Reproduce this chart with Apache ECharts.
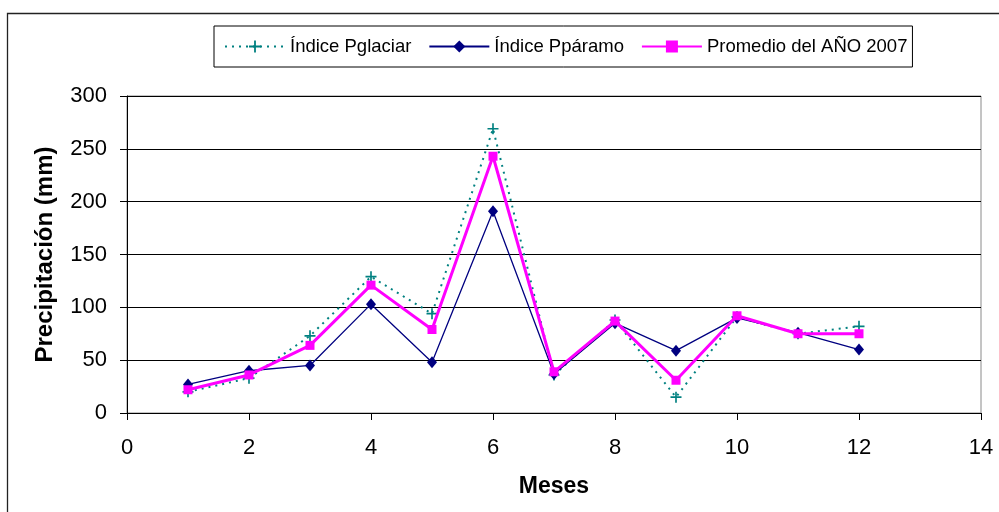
<!DOCTYPE html>
<html>
<head>
<meta charset="utf-8">
<script src="https://cdn.jsdelivr.net/npm/echarts@6/dist/echarts.min.js"></script>
<style>
  html, body { margin: 0; padding: 0; background: #fff; }
  #chart { width: 999px; height: 512px; }
</style>
</head>
<body>
<div id="chart"></div>
<script>
// Monthly precipitation, 2007
const meses = [1, 2, 3, 4, 5, 6, 7, 8, 9, 10, 11, 12];
const pglaciar = [20, 33, 73, 129, 94, 269, 36, 88, 15, 91, 75, 82];
const ppáramo = [27, 40, 45, 103, 48, 191, 37, 85, 59, 90, 76, 60];
const promedio = [22, 36, 64, 121, 79, 243, 39, 87, 31, 92, 75, 75];

const xTicks = { min: 0, max: 14, interval: 2 };
const yTicks = { min: 0, max: 300, interval: 50 };

const FONT = '"Liberation Sans", Arial, sans-serif';
const pairs = (vals) => meses.map((m, i) => [m, vals[i]]);

// thin "+" marker
const plusPath = 'path://M4.25,0H5.75V4.25H10V5.75H5.75V10H4.25V5.75H0V4.25H4.25Z';

const chart = echarts.init(document.getElementById('chart'), null, { renderer: 'canvas' });

chart.setOption({
  backgroundColor: '#ffffff',
  animation: false,
  textStyle: { fontFamily: FONT },
  graphic: [{
    type: 'rect',
    shape: { x: 7.5, y: 13.5, width: 1100, height: 600 },
    style: { fill: 'none', stroke: '#222', lineWidth: 1.3 },
    silent: true,
    z: -10
  }],
  legend: {
    left: 214,
    top: 26,
    padding: [11, 5, 11, 10],
    borderColor: '#000',
    borderWidth: 1,
    itemWidth: 60,
    itemHeight: 15,
    itemGap: 17,
    textStyle: { fontFamily: FONT, fontSize: 18.5, color: '#000' },
    data: ['Índice Pglaciar', 'Índice Ppáramo', 'Promedio del AÑO 2007']
  },
  grid: {
    left: 127,
    right: 18,
    top: 96,
    bottom: 99,
    show: true,
    borderColor: '#8a8a8a',
    borderWidth: 1,
    backgroundColor: '#fff'
  },
  xAxis: {
    type: 'value',
    min: xTicks.min,
    max: xTicks.max,
    interval: xTicks.interval,
    name: 'Meses',
    nameLocation: 'middle',
    nameGap: 62,
    nameTextStyle: { fontFamily: FONT, fontSize: 23, fontWeight: 'bold', color: '#000' },
    axisLine: { show: true, lineStyle: { color: '#000', width: 1 } },
    axisTick: { show: true, inside: false, length: 7, lineStyle: { color: '#000' } },
    axisLabel: { fontFamily: FONT, fontSize: 22, color: '#000', margin: 24 },
    splitLine: { show: false }
  },
  yAxis: {
    type: 'value',
    min: yTicks.min,
    max: yTicks.max,
    interval: yTicks.interval,
    name: 'Precipitación (mm)',
    nameLocation: 'middle',
    nameRotate: 90,
    nameGap: 70,
    nameTextStyle: { fontFamily: FONT, fontSize: 24, fontWeight: 'bold', color: '#000' },
    axisLine: { show: true, lineStyle: { color: '#000', width: 1 } },
    axisTick: { show: true, inside: false, length: 7, lineStyle: { color: '#000' } },
    axisLabel: { fontFamily: FONT, fontSize: 22, color: '#000', margin: 20 },
    splitLine: { show: true, lineStyle: { color: '#000', width: 1 } }
  },
  series: [
    {
      name: 'Índice Pglaciar',
      type: 'line',
      data: pairs(pglaciar),
      symbol: plusPath,
      symbolSize: 11,
      showAllSymbol: true,
      itemStyle: { color: '#008080' },
      lineStyle: { color: '#008080', width: 2, type: [2, 5] },
      z: 2
    },
    {
      name: 'Índice Ppáramo',
      type: 'line',
      data: pairs(ppáramo),
      symbol: 'diamond',
      symbolSize: [10, 12],
      itemStyle: { color: '#000080' },
      lineStyle: { color: '#000080', width: 1.3 },
      z: 3
    },
    {
      name: 'Promedio del AÑO 2007',
      type: 'line',
      data: pairs(promedio),
      symbol: 'rect',
      symbolSize: 9,
      itemStyle: { color: '#ff00ff' },
      lineStyle: { color: '#ff00ff', width: 3 },
      z: 4
    }
  ]
});
</script>
</body>
</html>
